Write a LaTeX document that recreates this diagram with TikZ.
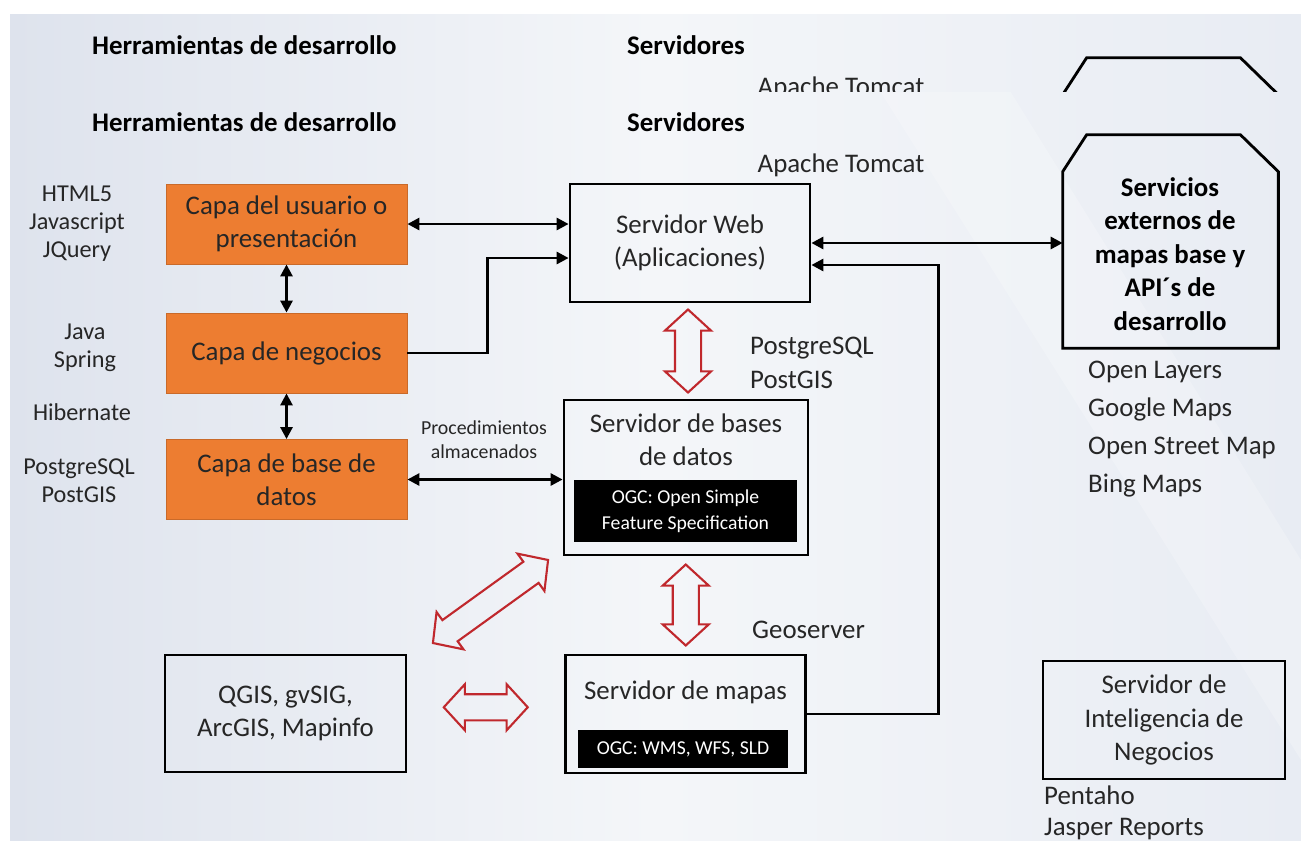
\documentclass[tikz,border=0pt]{standalone}
\usepackage{fontspec}
\setmainfont{Carlito}
\usetikzlibrary{arrows.meta,shapes.arrows,positioning,calc}

\definecolor{capaorange}{HTML}{ED7D31}
\definecolor{flechared}{HTML}{C0282D}
\definecolor{txtgray}{HTML}{262626}
\definecolor{bgleft}{HTML}{DEE3ED}
\definecolor{bgmid}{HTML}{F4F6F9}
\definecolor{bgright}{HTML}{E8ECF3}

\newcommand{\mainsize}{\fontsize{15.3}{19}\selectfont}
\newcommand{\leftsize}{\fontsize{13.8}{16}\selectfont}
\newcommand{\smallsize}{\fontsize{11.3}{13.6}\selectfont}
\newcommand{\ogcsize}{\fontsize{11.2}{14.6}\selectfont}
% contorno de servicios externos, esquinas de arriba cortadas
\newcommand{\hexcontorno}[1]{%
	\draw [line width=1.6pt] (#1.south west) -- ($(#1.north west)+(0,37)$) -- ($(#1.north west)+(24,0)$)
		-- ($(#1.north east)+(-38,0)$) -- ($(#1.north east)+(0,37)$) -- (#1.south east) -- cycle;}

\begin{document}
\begin{tikzpicture}[x=0.02cm, y=-0.02cm, font=\mainsize, text=txtgray]

		\tikzset{
			capa/.style={fill=capaorange, draw=capaorange!85!black, line width=0.5pt, minimum width=4.82cm, minimum height=1.6cm, align=center},
			servidor/.style={draw=black, line width=1.6pt, minimum width=4.8cm, minimum height=2.36cm, align=center},
			ogc/.style={fill=black, text=white, font=\ogcsize, align=center, inner sep=0pt},
			flecha/.style={shape=double arrow, draw=flechared, line width=1.2pt, minimum width=0.92cm, double arrow head extend=0.1cm, double arrow tip angle=95, inner sep=0.11cm},
			conn/.style={line width=1.6pt, draw=black},
			dos/.style={conn, {Triangle[length=0.24cm,width=0.24cm]}-{Triangle[length=0.24cm,width=0.24cm]}},
			uno/.style={conn, -{Triangle[length=0.24cm,width=0.24cm]}},
			hexa/.style={rectangle, minimum width=4.3cm, minimum height=4.26cm, inner sep=0pt},
			titulo/.style={anchor=west, font=\mainsize\bfseries, text=black},
		}

		% fondo
		\fill[white] (0,0) rectangle (1301,840);
		\shade[left color=bgleft, right color=bgright, middle color=bgmid] (10,14) rectangle (1301,840);
		\fill[white, opacity=0.22] (880,91) -- (1010,91) -- (1301,560) -- (1301,760) -- cycle;

		% franja repetida de arriba
		\begin{scope}
			\clip (10,14) rectangle (1301,91);
			\begin{scope}[yshift=1.54cm]
				\shade[left color=bgleft, right color=bgright, middle color=bgmid] (10,14) rectangle (1301,200);
				\node [titulo] (herrcopia) at (86,122) {Herramientas de desarrollo};
				\node [titulo] (servcopia) at (621,122) {Servidores};
				\node (tomcatcopia) at (841,165) {Apache Tomcat};
				\node [hexa] (extcopia) at (1170.5,241.5) {};
				\hexcontorno{extcopia}
			\end{scope}
		\end{scope}

		% titulos
		\node [titulo] (herr) at (86,122) {Herramientas de desarrollo};
		\node [titulo] (serv) at (621,122) {Servidores};

		% capas
		\node [capa] (usuario) at (286.5,224) {Capa del usuario o\\presentación};
		\node [capa] (negocios) at (286.5,353) {Capa de negocios};
		\node [capa] (capabd) at (286.5,479.5) {Capa de base de\\datos};

		\node [font=\leftsize, align=center] (html) at (77,224) {HTML5\\Javascript\\JQuery};
		\node [font=\leftsize, align=center] (java) at (85,348) {Java\\Spring};
		\node [font=\leftsize] (hiber) at (82,412) {Hibernate};
		\node [font=\leftsize, align=center] (pgleft) at (79,481) {PostgreSQL\\PostGIS};

		% servidores
		\node [servidor] (web) at (690,243) {Servidor Web\\(Aplicaciones)};
		\node (tomcat) at (841,165) {Apache Tomcat};

		\node [servidor, minimum width=4.88cm, minimum height=3.1cm] (bd) at (686,477.5) {};
		\node [align=center] (bdtxt) at (686,440) {Servidor de bases\\de datos};
		\node [ogc, minimum width=4.46cm, minimum height=1.24cm] (ogcbd) at (685.5,511) {OGC: Open Simple\\Feature Specification};

		\node [servidor] (mapas) at (685.5,714) {};
		\node (mapastxt) at (685.5,692) {Servidor de mapas};
		\node [ogc, minimum width=4.2cm, minimum height=0.76cm] (ogcmapas) at (683,749) {OGC: WMS, WFS, SLD};

		\node [servidor, minimum width=4.82cm, minimum height=2.34cm] (qgis) at (285.5,713.5) {QGIS, gvSIG,\\ArcGIS, Mapinfo};

		\node [anchor=west, align=left] (pgserv) at (744,363) {PostgreSQL\\PostGIS};
		\node [anchor=west] (geo) at (746,630) {Geoserver};
		\node [font=\smallsize, align=center] (proc) at (484,440) {Procedimientos\\almacenados};

		% servicios externos
		\node [hexa] (ext) at (1170.5,241.5) {};
		\hexcontorno{ext}
		\node [font=\mainsize\bfseries, align=center, text=black] (exttxt) at (1170,254) {Servicios\\externos de\\mapas base y\\API´s de\\desarrollo};
		\node [anchor=west, align=left, font=\fontsize{15.3}{21.6}\selectfont] (apis) at (1082,429.5) {Open Layers\\Google Maps\\Open Street Map\\Bing Maps};

		\node [servidor, minimum width=4.84cm] (bi) at (1164,720) {Servidor de\\Inteligencia de\\Negocios};
		\node [anchor=west, align=left, font=\fontsize{15.3}{17.6}\selectfont] (bitools) at (1038,812.5) {Pentaho\\Jasper Reports};

		% conectores
		\draw [dos] (usuario.east) -- (usuario.east -| web.west);
		\draw [dos] (usuario.south) -- (negocios.north);
		\draw [dos] (negocios.south) -- (capabd.north);
		\draw [uno] (negocios.east) -- ++(80,0) |- ($(web.west)+(0,15)$);
		\draw [dos] (capabd.east) -- (capabd.east -| bd.west);
		\draw [uno] (mapas.east) -- ++(132,0) |- ($(web.east)+(0,22)$);
		\draw [dos] (web.east) -- (web.east -| ext.west);

		% flechas huecas
		\node [flecha, rotate=90, minimum height=1.66cm] (fwebbd) at ($(web.south)!0.5!(bd.north)$) {};
		\node [flecha, rotate=90, minimum height=1.62cm] (fbdmapas) at ($(bd.south)!0.5!(mapas.north)$) {};
		\node [flecha, rotate=35.8, minimum height=2.84cm] (fqgisbd) at (490.5,601.5) {};
		\node [flecha, minimum height=1.68cm, yshift=0.13cm] (fqgismapas) at ($(qgis.east)!0.5!(mapas.west)$) {};

\end{tikzpicture}
\end{document}
